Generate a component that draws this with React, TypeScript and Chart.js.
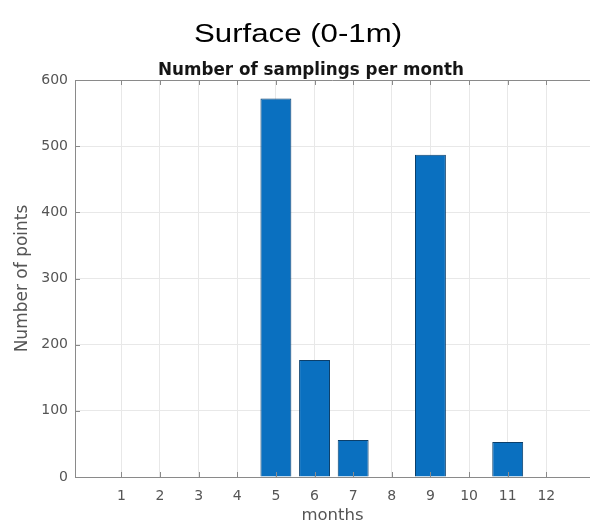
import React, { useEffect, useRef } from "react";
import { Chart, registerables } from "chart.js";

Chart.register(...registerables);

const months = [1, 2, 3, 4, 5, 6, 7, 8, 9, 10, 11, 12];
const counts = [0, 0, 0, 0, 572, 177, 56, 0, 487, 0, 53, 0];
const monthTickLabels = ["1", "2", "3", "4", "5", "6", "7", "8", "9", "10", "11", "12"];
const yTicks = [0, 100, 200, 300, 400, 500, 600];
const mainTitle = "Surface (0-1m)";
const subTitle = "Number of samplings per month";
const xTitle = "months";
const yTitle = "Number of points";

const AXIS_COLOR = "#8a8a8a";
const TEXT_COLOR = "#555555";
const GRID_COLOR = "#e8e8e8";

const frame = {
  id: "matlabFrame",
  afterDatasetsDraw(chart: any) {
    const { ctx, chartArea, scales } = chart;
    const x = scales.x;
    const y = scales.y;
    ctx.save();
    ctx.strokeStyle = AXIS_COLOR;
    ctx.lineWidth = 1;
    ctx.beginPath();
    ctx.moveTo(chartArea.left, chartArea.top + 0.5);
    ctx.lineTo(chartArea.right, chartArea.top + 0.5);
    ctx.stroke();
    const tl = 5;
    ctx.beginPath();
    for (const m of months) {
      const px = Math.round(x.getPixelForValue(m)) + 0.5;
      ctx.moveTo(px, chartArea.bottom);
      ctx.lineTo(px, chartArea.bottom - tl);
      ctx.moveTo(px, chartArea.top);
      ctx.lineTo(px, chartArea.top + tl);
    }
    for (const v of yTicks) {
      const py = Math.round(y.getPixelForValue(v)) + 0.5;
      ctx.moveTo(chartArea.left, py);
      ctx.lineTo(chartArea.left + tl, py);
    }
    ctx.stroke();
    ctx.restore();
  },
  afterDraw(chart: any) {
    const { ctx } = chart;
    ctx.save();
    ctx.fillStyle = "#000";
    ctx.textAlign = "center";
    ctx.textBaseline = "alphabetic";
    ctx.font = "26px 'Liberation Sans', Arial, sans-serif";
    ctx.save();
    ctx.translate(298, 42);
    ctx.scale(1.2, 1);
    ctx.fillText(mainTitle, 0, 0);
    ctx.restore();
    ctx.fillStyle = "#151515";
    ctx.font = "bold 17px 'DejaVu Sans', sans-serif";
    const w = ctx.measureText(subTitle).width;
    ctx.save();
    ctx.translate(311, 75);
    ctx.scale(306 / w, 1);
    ctx.fillText(subTitle, 0, 0);
    ctx.restore();
    ctx.restore();
  },
};

export default function App() {
  const ref = useRef<HTMLCanvasElement>(null);
  useEffect(() => {
    if (!ref.current) return;
    const chart = new Chart(ref.current, {
      type: "bar",
      data: {
        datasets: [
          {
            data: months.map((m, i) => ({ x: m, y: counts[i] })),
            backgroundColor: "#0a70c0",
            borderColor: "#0b3f6b",
            borderWidth: (c: any) => (c.raw && c.raw.y > 0 ? 1 : 0),
            barPercentage: 0.8,
            categoryPercentage: 1,
          },
        ],
      },
      plugins: [frame],
      options: {
        animation: false,
        responsive: false,
        devicePixelRatio: 1,
        layout: { padding: { top: 80, left: 0, right: 0, bottom: 0 } },
        plugins: {
          legend: { display: false },
          tooltip: { enabled: false },
          title: { display: false },
        },
        scales: {
          x: {
            type: "linear",
            offset: false,
            min: -0.2,
            max: 13.13,
            afterBuildTicks: (s: any) => {
              s.ticks = months.map((m) => ({ value: m }));
            },
            afterFit: (s: any) => {
              s.height = 49;
            },
            ticks: {
              autoSkip: false,
              maxRotation: 0,
              padding: 11,
              color: TEXT_COLOR,
              font: { family: "'DejaVu Sans', sans-serif", size: 14 },
              callback: (v: any) => {
                const i = months.indexOf(Number(v));
                return i >= 0 ? monthTickLabels[i] : "";
              },
            },
            grid: { color: GRID_COLOR, drawTicks: false, offset: false },
            border: { color: AXIS_COLOR },
            title: {
              display: true,
              text: xTitle,
              color: TEXT_COLOR,
              font: { family: "'DejaVu Sans', sans-serif", size: 16.5 },
              padding: { top: 0, bottom: 0 },
            },
          },
          y: {
            min: 0,
            max: 600,
            afterBuildTicks: (s: any) => {
              s.ticks = yTicks.map((v) => ({ value: v }));
            },
            afterFit: (s: any) => {
              s.width = 75;
            },
            ticks: {
              padding: 7,
              color: TEXT_COLOR,
              font: { family: "'DejaVu Sans', sans-serif", size: 14 },
            },
            grid: { color: GRID_COLOR, drawTicks: false },
            border: { color: AXIS_COLOR },
            title: {
              display: true,
              text: yTitle,
              color: TEXT_COLOR,
              font: { family: "'DejaVu Sans', sans-serif", size: 17 },
              padding: { top: 12.5, bottom: 0 },
            },
          },
        },
      },
    } as any);
    return () => chart.destroy();
  }, []);
  return (
    <div style={{ position: "absolute", left: 0, top: 0, width: 590, height: 526, background: "#fff" }}>
      <canvas ref={ref} width={590} height={526} style={{ display: "block" }} />
    </div>
  );
}
